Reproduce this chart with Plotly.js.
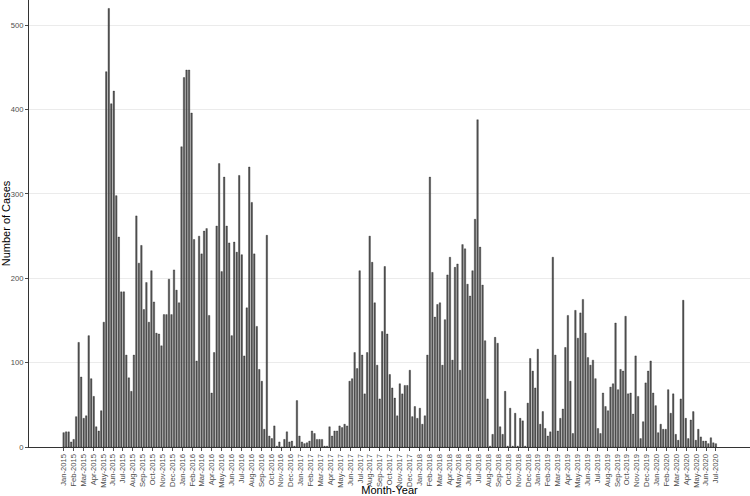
<!DOCTYPE html>
<html>
<head>
<meta charset="utf-8">
<script src="https://cdn.plot.ly/plotly-3.0.1.min.js"></script>
<style>
  html, body { margin: 0; padding: 0; background: #fff; }
  #plot { width: 750px; height: 496px; }
</style>
</head>
<body>
<div id="plot"></div>
<script>
// weekly case counts left to right
const cases2015_16 = [17, 18, 18, 6, 9, 36, 124, 83, 34, 37, 132, 81, 60, 24, 19, 43, 148, 445, 520, 407,
  422, 298, 249, 184, 184, 109, 82, 66, 109, 274, 218, 239, 163, 195, 148, 209, 172, 135, 134, 120,
  157, 157, 199, 157, 210, 186, 171, 356, 438, 447, 447, 396, 246, 102, 250, 229, 256, 259, 156, 64,
  112, 262, 336, 208, 320, 262, 242, 132, 243, 231, 322, 228, 108, 165, 332, 290, 229, 143, 92, 78,
  21, 251, 13, 10, 25, 1, 6];
const cases2016_17 = [0, 9, 18, 6, 7, 1, 55, 13, 6, 4, 5, 7, 19, 16, 9, 9, 9, 1, 1, 24,
  13, 19, 19, 25, 23, 27, 25, 78, 81, 112, 93, 209, 109, 63, 112, 250, 219, 171, 97, 57,
  137, 214, 134, 86];
const cases2017_18 = [70, 58, 37, 75, 63, 73, 73, 91, 36, 48, 34, 46, 27, 37, 109, 320, 207, 154, 169, 171,
  97, 151, 204, 225, 103, 213, 217, 91, 240, 235, 193, 179, 209, 270, 388, 237, 192, 126, 57, 1,
  15, 130, 123, 24];
const cases2018_19 = [15, 66, 1, 46, 1, 40, 1, 34, 31, 1, 52, 105, 90, 70, 116, 27, 42, 22, 13, 18,
  225, 109, 19, 34, 45, 118, 156, 78, 16, 162, 129, 159, 175, 135, 106, 97, 103, 81, 22, 16,
  64, 48, 43, 71];
const cases2019_20 = [75, 147, 68, 92, 90, 155, 63, 64, 39, 108, 60, 10, 30, 76, 90, 102, 64, 49, 17, 27,
  21, 21, 68, 40, 63, 15, 8, 57, 174, 34, 10, 32, 42, 8, 21, 12, 7, 7, 4, 11, 5, 4];

const monthLabels = [
  'Jan-2015', 'Feb-2015', 'Mar-2015', 'Apr-2015', 'May-2015', 'Jun-2015', 'Jul-2015', 'Aug-2015', 'Sep-2015', 'Oct-2015', 'Nov-2015', 'Dec-2015',
  'Jan-2016', 'Feb-2016', 'Mar-2016', 'Apr-2016', 'May-2016', 'Jun-2016', 'Jul-2016', 'Aug-2016', 'Sep-2016', 'Oct-2016', 'Nov-2016', 'Dec-2016',
  'Jan-2017', 'Feb-2017', 'Mar-2017', 'Apr-2017', 'May-2017', 'Jun-2017', 'Jul-2017', 'Aug-2017', 'Sep-2017', 'Oct-2017', 'Nov-2017', 'Dec-2017',
  'Jan-2018', 'Feb-2018', 'Mar-2018', 'Apr-2018', 'May-2018', 'Jun-2018', 'Jul-2018', 'Aug-2018', 'Sep-2018', 'Oct-2018', 'Nov-2018', 'Dec-2018',
  'Jan-2019', 'Feb-2019', 'Mar-2019', 'Apr-2019', 'May-2019', 'Jun-2019', 'Jul-2019', 'Aug-2019', 'Sep-2019', 'Oct-2019', 'Nov-2019', 'Dec-2019',
  'Jan-2020', 'Feb-2020', 'Mar-2020', 'Apr-2020', 'May-2020', 'Jun-2020', 'Jul-2020'
];

const cases = [].concat(cases2015_16, cases2016_17, cases2017_18, cases2018_19, cases2019_20);
const weekIdx = cases.map((v, i) => i + 1);

// month labels are spread evenly from the first week to the last one
const step = (cases.length - 1) / (monthLabels.length - 1);
const tickPos = monthLabels.map((m, i) => 1 + i * step);

const tickFont = { family: 'Liberation Sans, Arial, sans-serif', size: 7.6, color: '#4d4d4d' };
const titleFont = { family: 'Liberation Sans, Arial, sans-serif', size: 11, color: '#000' };

const trace = {
  x: weekIdx,
  y: cases,
  type: 'bar',
  width: 0.6,
  marker: { color: '#5a5a5a', line: { color: '#000', width: 0.3 } },
  hoverinfo: 'y'
};

const layout = {
  width: 750,
  height: 496,
  margin: { l: 29, r: 0, t: 0, b: 49 },
  paper_bgcolor: '#fff',
  plot_bgcolor: '#fff',
  showlegend: false,
  bargap: 0,
  xaxis: {
    range: [-12.8, 274.6],
    tickmode: 'array',
    tickvals: tickPos,
    ticktext: monthLabels,
    tickangle: -90,
    tickfont: tickFont,
    ticks: 'outside',
    ticklen: 3,
    tickcolor: '#4d4d4d',
    showgrid: false,
    zeroline: false,
    showline: true,
    linecolor: '#333',
    linewidth: 1,
    title: { text: 'Month-Year', font: titleFont, standoff: 0 }
  },
  yaxis: {
    range: [0, 530],
    tickvals: [0, 100, 200, 300, 400, 500],
    tickfont: tickFont,
    ticks: 'outside',
    ticklen: 3,
    tickcolor: '#4d4d4d',
    showgrid: true,
    gridcolor: '#ebebeb',
    gridwidth: 1,
    zeroline: false,
    showline: true,
    linecolor: '#333',
    linewidth: 1,
    title: { text: 'Number of Cases', font: titleFont, standoff: 3 }
  }
};

Plotly.newPlot('plot', [trace], layout, { displayModeBar: false, staticPlot: true });
</script>
</body>
</html>
